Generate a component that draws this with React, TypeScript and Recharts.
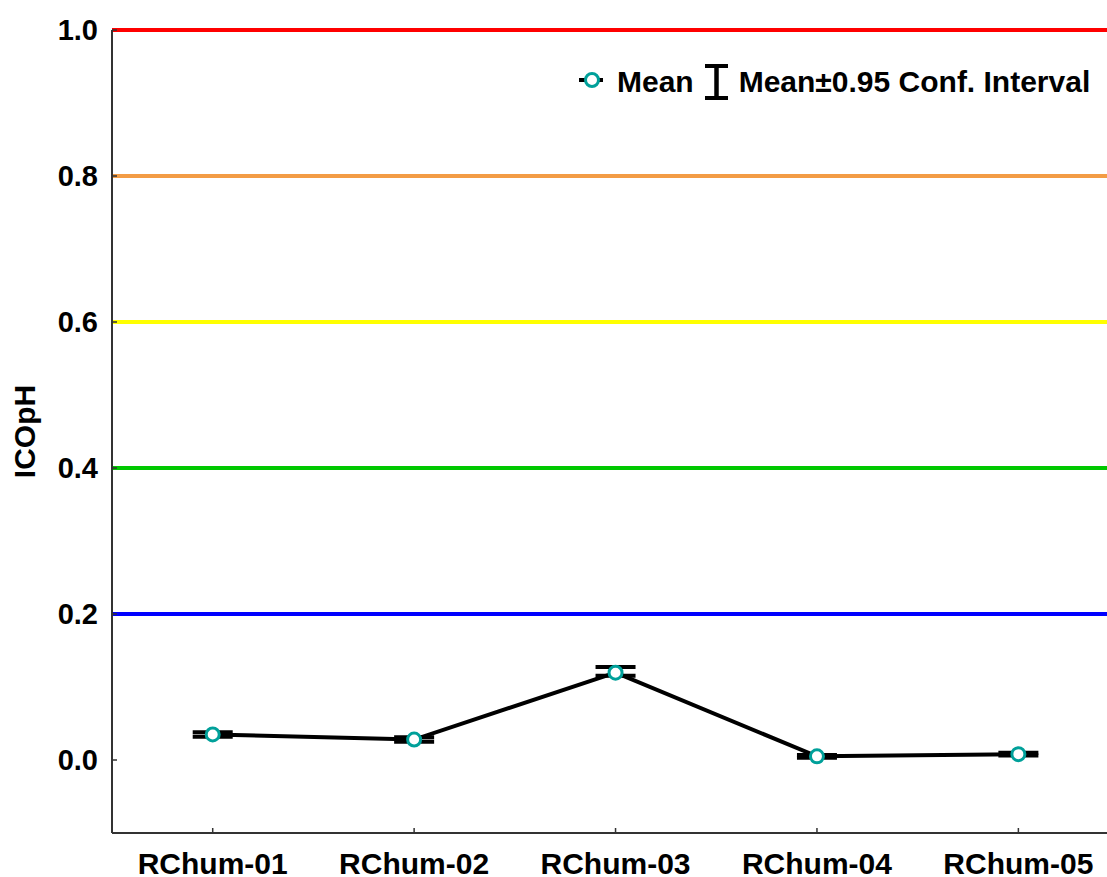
import React from 'react';
import { LineChart, Line, XAxis, YAxis, ReferenceLine, ErrorBar } from 'recharts';

const categories = ['RChum-01', 'RChum-02', 'RChum-03', 'RChum-04', 'RChum-05'];
const means = [0.035, 0.028, 0.1196, 0.005, 0.008];
const ciLow = [0.032, 0.025, 0.1155, 0.003, 0.006];
const ciHigh = [0.038, 0.031, 0.1274, 0.007, 0.010];
const yTicks = [0, 0.2, 0.4, 0.6, 0.8, 1.0];
const refLevels = [1.0, 0.8, 0.6, 0.4, 0.2];
const refColors = ['#ff0000', '#f39c45', '#ffff00', '#00c800', '#0000ff'];

const data = categories.map((c, i) => ({
  x: i + 1,
  name: c,
  mean: means[i],
  err: [means[i] - ciLow[i], ciHigh[i] - means[i]],
}));

const FONT = 'Liberation Sans, Arial, sans-serif';
const TEAL = '#00a09a';

const XTick = (props: any) => {
  const { x, y, payload } = props;
  const label = categories[payload.value - 1] ?? '';
  return (
    <g>
      <line x1={x} x2={x} y1={y - 5} y2={y} stroke="#333" strokeWidth={1.5} />
      <text x={x} y={y + 19} dy="0.72em" textAnchor="middle" fontFamily={FONT} fontWeight="bold" fontSize={30} fill="#000">
        {label}
      </text>
    </g>
  );
};

const YTick = (props: any) => {
  const { x, y, payload } = props;
  return (
    <g>
      <line x1={x + 14} x2={x + 19} y1={y} y2={y} stroke="#333" strokeWidth={1.5} />
      <text x={x} y={y} dy="0.36em" textAnchor="end" fontFamily={FONT} fontWeight="bold" fontSize={29} fill="#000">
        {Number(payload.value).toFixed(1)}
      </text>
    </g>
  );
};

const Dot = (props: any) => {
  const { cx, cy } = props;
  if (cx == null || cy == null) return null;
  return <circle cx={cx} cy={cy} r={6.5} fill="#fff" stroke={TEAL} strokeWidth={3} />;
};

const LegendBox = () => (
  <div style={{ position: 'absolute', left: 578, top: 63, height: 38, display: 'flex', alignItems: 'center', fontFamily: FONT, fontWeight: 'bold', fontSize: 30, lineHeight: '38px', color: '#000', whiteSpace: 'nowrap' }}>
    <svg width={26} height={20} style={{ marginRight: 13, marginTop: -4 }}>
      <line x1={1} x2={25} y1={10} y2={10} stroke="#000" strokeWidth={4} />
      <circle cx={14} cy={10} r={6.5} fill="#fff" stroke={TEAL} strokeWidth={3} />
    </svg>
    <span>Mean</span>
    <svg width={25} height={36} style={{ marginLeft: 10, marginRight: 10 }}>
      <line x1={1} x2={24} y1={2} y2={2} stroke="#000" strokeWidth={4} />
      <line x1={12.5} x2={12.5} y1={2} y2={34} stroke="#000" strokeWidth={4.5} />
      <line x1={1} x2={24} y1={34} y2={34} stroke="#000" strokeWidth={4} />
    </svg>
    <span>Mean±0.95 Conf. Interval</span>
  </div>
);

export default function App() {
  return (
    <div style={{ position: 'absolute', left: 0, top: 0, width: 1107, height: 877, background: '#fff' }}>
      <LineChart width={1107} height={877} data={data} margin={{ top: 30, right: 0, bottom: 0, left: 0 }}>
        <XAxis
          type="number"
          dataKey="x"
          domain={[0.5, 5.44]}
          ticks={[1, 2, 3, 4, 5]}
          allowDataOverflow
          height={44}
          tickSize={0}
          tickMargin={0}
          tickLine={false}
          tick={<XTick />}
          axisLine={{ stroke: '#333', strokeWidth: 2 }}
        />
        <YAxis
          type="number"
          domain={[-0.1, 1.0]}
          ticks={yTicks}
          allowDataOverflow
          width={112}
          tickSize={0}
          tickMargin={14}
          tickLine={false}
          tick={<YTick />}
          axisLine={{ stroke: '#333', strokeWidth: 2 }}
          label={{
            content: (p: any) => {
              const vb = p.viewBox || {};
              const cx = 24;
              const cy = (vb.y ?? 30) + (vb.height ?? 803) / 2;
              return (
                <text x={cx} y={cy} transform={`rotate(-90 ${cx} ${cy})`} textAnchor="middle" dy="0.36em" fontFamily={FONT} fontWeight="bold" fontSize={30} fill="#000">
                  ICOpH
                </text>
              );
            },
          }}
        />
        {refLevels.map((v, i) => (
          <ReferenceLine key={v} y={v} stroke={refColors[i]} strokeWidth={4} ifOverflow="visible" />
        ))}
        <Line dataKey="mean" stroke="#000" strokeWidth={4} dot={<Dot />} activeDot={false} isAnimationActive={false}>
          <ErrorBar dataKey="err" direction="y" width={20} strokeWidth={4} stroke="#000" isAnimationActive={false} />
        </Line>
      </LineChart>
      <LegendBox />
    </div>
  );
}
